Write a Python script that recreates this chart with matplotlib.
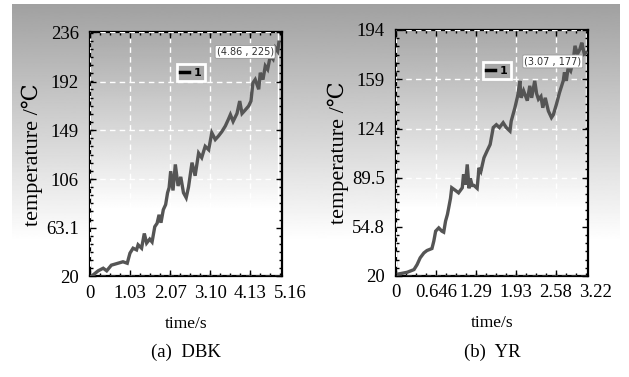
import numpy as np
import matplotlib
matplotlib.use("Agg")
import matplotlib.pyplot as plt
from matplotlib.ticker import AutoMinorLocator
from matplotlib.lines import Line2D

SERIF = ["Liberation Serif", "DejaVu Serif", "DejaVu Sans", "Noto Sans CJK SC"]
plt.rcParams["font.family"] = SERIF

# ---------------------------------------------------------------------------
# values
# ---------------------------------------------------------------------------
DBK_T = [0.03, 0.21, 0.34, 0.43, 0.55, 0.72, 0.85, 0.96, 1.03, 1.11, 1.20, 1.24,
         1.33, 1.40, 1.46, 1.54, 1.60, 1.67, 1.73, 1.78, 1.83, 1.89, 1.95, 2.00,
         2.04, 2.08, 2.14, 2.20, 2.27, 2.34, 2.41, 2.48, 2.54, 2.63, 2.71, 2.80,
         2.88, 2.97, 3.06, 3.14, 3.23, 3.31, 3.40, 3.49, 3.57, 3.62, 3.69, 3.79,
         3.86, 3.92, 4.00, 4.09, 4.15, 4.20, 4.26, 4.35, 4.39, 4.46, 4.52, 4.58,
         4.65, 4.72, 4.78, 4.84, 4.87]
DBK_V = [20, 25, 27.3, 25, 30, 31.7, 33, 31.7, 40.6, 45, 43.5, 48,
         45, 58, 49.5, 53, 50.5, 64, 67, 74.5, 67.5, 79, 83.5, 94,
         98.5, 113, 96, 119, 100, 108, 94, 89.6, 99, 120.6, 109, 129,
         125, 135, 132, 147, 141, 144, 148, 153, 159, 163, 157, 164,
         175, 164, 167, 170.6, 175, 191, 194, 185.4, 200, 194, 206, 203,
         215, 212, 222, 219, 227]

YR_T = [0.04, 0.18, 0.29, 0.34, 0.39, 0.45, 0.50, 0.58, 0.61, 0.64, 0.69, 0.74,
        0.77, 0.80, 0.83, 0.85, 0.88, 0.90, 0.96, 1.01, 1.07, 1.09, 1.12, 1.15,
        1.18, 1.20, 1.23, 1.26, 1.31, 1.34, 1.37, 1.42, 1.47, 1.52, 1.57, 1.62,
        1.67, 1.73, 1.78, 1.84, 1.86, 1.92, 1.97, 2.00, 2.02, 2.06, 2.12, 2.16,
        2.19, 2.24, 2.27, 2.30, 2.34, 2.37, 2.41, 2.46, 2.51, 2.54, 2.59, 2.64,
        2.70, 2.72, 2.75, 2.78, 2.82, 2.86, 2.89, 2.93, 2.97, 3.00, 3.04, 3.07]
YR_V = [21.4, 22.6, 24.5, 28, 32.8, 36.3, 38, 39.4, 44.6, 51.7, 54, 51.7,
        51, 58.8, 63.5, 68, 75, 82.4, 80.5, 78.8, 82.4, 91.8, 84.6, 98.9,
        82, 89, 84, 84, 82, 96.5, 94, 103.6, 108.4, 113, 125, 127,
        125, 128.4, 125, 122.5, 129.5, 139, 148.5, 158, 146, 151, 144, 154.5,
        146, 158, 149, 145, 147, 139, 146, 136.7, 132, 134, 141.4, 149.7,
        158, 164, 158, 167.4, 165, 172, 182.8, 177, 180.5, 185, 177, 178]

PANELS = [
    dict(t=DBK_T, v=DBK_V, xticks=[0, 1.03, 2.07, 3.10, 4.13],
         xlabels=["0", "1.03", "2.07", "3.10", "4.13"], xextra=("5.16", 5.16),
         xmax=4.95, yticks=[20, 63.1, 106, 149, 192, 236],
         ylabels=["20", "63.1", "106", "149", "192", "236"],
         cursor=(4.86, 225), caption="(a)  DBK",
         rect=[0.1431, 0.2666, 0.3052, 0.6485]),
    dict(t=YR_T, v=YR_V, xticks=[0, 0.646, 1.29, 1.93, 2.58],
         xlabels=["0", "0.646", "1.29", "1.93", "2.58"], xextra=("3.22", 3.22),
         xmax=3.10, yticks=[20, 54.8, 89.5, 124, 159, 194],
         ylabels=["20", "54.8", "89.5", "124", "159", "194"],
         cursor=(3.07, 177), caption="(b)  YR",
         rect=[0.6296, 0.268, 0.3052, 0.6525]),
]

fig = plt.figure(figsize=(6.29, 3.77), dpi=100)

# grey wash behind the whole top of the figure
bg = fig.add_axes([0, 0, 1, 1], zorder=-10)
ramp = np.concatenate([np.linspace(0.63, 1.0, 240), np.ones(90)])[:, None]
bg.imshow(ramp, cmap="gray", vmin=0, vmax=1, aspect="auto",
          extent=[12 / 629, 620 / 629, 1 - 330 / 377, 1 - 4 / 377],
          transform=bg.transAxes)
bg.set_xlim(0, 1)
bg.set_ylim(0, 1)
bg.axis("off")

line_col = "#555555"

for p in PANELS:
    ax = fig.add_axes(p["rect"])
    # gradient inside the plot frame
    inner = np.concatenate([np.linspace(0.66, 1.0, 190), np.ones(70)])[:, None]
    ax.imshow(inner, cmap="gray", vmin=0, vmax=1, aspect="auto",
              extent=[0, 1, 0, 1], transform=ax.transAxes, zorder=0)

    ax.plot(p["t"], p["v"], color=line_col, lw=2.4, zorder=3,
            solid_joinstyle="miter")

    ax.set_xlim(0, p["xmax"])
    ax.set_ylim(p["yticks"][0], p["yticks"][-1])
    ax.set_xticks(p["xticks"])
    ax.set_xticklabels(p["xlabels"])
    ax.set_yticks(p["yticks"])
    ax.set_yticklabels(p["ylabels"])
    ax.xaxis.set_minor_locator(AutoMinorLocator(4))
    ax.yaxis.set_minor_locator(AutoMinorLocator(6))
    ax.tick_params(which="both", direction="in", top=True, right=True,
                   colors="black", width=1.0)
    ax.tick_params(which="major", length=4, labelsize=13.5, pad=6)
    ax.tick_params(which="minor", length=2.5)
    ax.tick_params(axis="y", pad=8)
    for s in ax.spines.values():
        s.set_linewidth(1.6)

    # extra tick label sitting beyond the frame
    ax.annotate(p["xextra"][0], xy=(p["xextra"][1], 0),
                xycoords=("data", "axes fraction"), xytext=(0, -6),
                textcoords="offset points", ha="center", va="top",
                fontsize=13.5, annotation_clip=False)

    ax.grid(True, which="major", color="white", ls=(0, (4, 3)), lw=1.0,
            zorder=1)
    ax.set_axisbelow(False)

    cx, cy = p["cursor"]
    ax.axvline(cx, color="white", lw=1.0, zorder=2)
    ax.text(cx - 0.025 * p["xmax"], cy - 0.01 * (p["yticks"][-1] - p["yticks"][0]),
            f"({cx:.2f} , {cy})", ha="right", va="top", fontsize=7,
            family=["DejaVu Sans"], color="#333333", zorder=5,
            bbox=dict(boxstyle="round,pad=0.15", fc="white", ec="#999999",
                      lw=0.6))

    leg = ax.legend(handles=[Line2D([], [], color="black", lw=2.5)],
                    labels=["1"], loc="center",
                    bbox_to_anchor=(0.526, 0.834), handlelength=0.8,
                    handletextpad=0.4, borderpad=0.3, fancybox=False,
                    prop=dict(family="DejaVu Sans", size=8, weight="bold"))
    leg.get_frame().set_facecolor("#a8a8a8")
    leg.get_frame().set_edgecolor("white")
    leg.get_frame().set_linewidth(2.0)
    leg.get_frame().set_alpha(1)

    ax.set_ylabel("temperature /\u2103", fontsize=16, labelpad=2)
    ax.set_xlabel("time/s", fontsize=12.5, labelpad=10)
    ax.text(0.5, -0.31, p["caption"], transform=ax.transAxes, ha="center",
            va="center", fontsize=13.5)

fig.savefig("out.png", dpi=100)
